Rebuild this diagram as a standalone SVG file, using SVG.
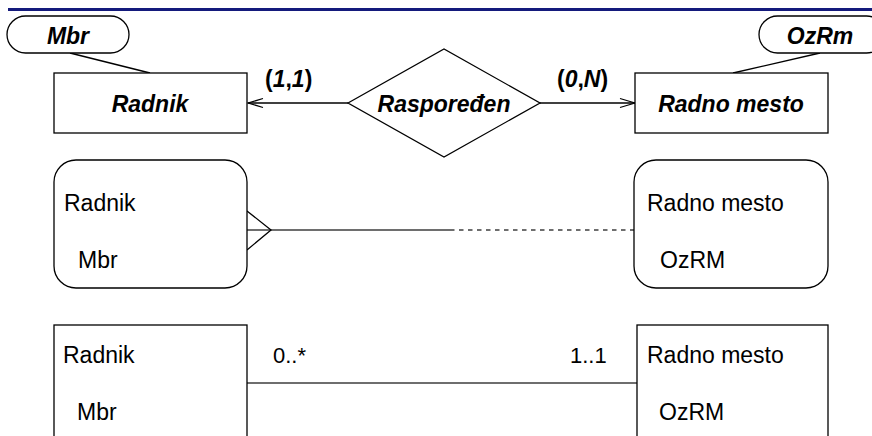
<svg xmlns="http://www.w3.org/2000/svg" width="872" height="436" viewBox="0 0 872 436">
<style>
.box{fill:#fff;stroke:#000;stroke-width:1.3}
.bi{font-family:"Liberation Sans",Arial,sans-serif;font-weight:bold;font-style:italic;font-size:23px;fill:#000}
.b{font-family:"Liberation Sans",Arial,sans-serif;font-weight:bold;font-size:23px;fill:#000}
.t{font-family:"Liberation Sans",Arial,sans-serif;font-size:23px;fill:#000}
.s{font-family:"Liberation Sans",Arial,sans-serif;font-size:22px;fill:#000}
.ln{stroke:#000;stroke-width:1.3;fill:none}
.gl{stroke:#6e6e6e;stroke-width:2;fill:none}
</style>
<defs>
<marker id="chev" markerWidth="18" markerHeight="12" refX="16" refY="6" orient="auto" markerUnits="userSpaceOnUse">
<path d="M1,1.5 L16,6 L1,10.5" fill="none" stroke="#000" stroke-width="1.3"/>
</marker>
</defs>
<rect x="8" y="8" width="864" height="3" fill="#141a7c"/>

<g id="connectors">
<line class="ln" x1="70" y1="53" x2="150" y2="73"/>
<line class="ln" x1="820" y1="53" x2="733" y2="73"/>
<line class="ln" x1="348" y1="103" x2="248" y2="103" marker-end="url(#chev)"/>
<line class="ln" x1="540" y1="103" x2="635" y2="103" marker-end="url(#chev)"/>
<line class="gl" x1="247" y1="230" x2="450" y2="230"/>
<line class="gl" x1="450" y1="230" x2="634" y2="230" stroke-dasharray="4.5,4.5"/>
<polyline class="ln" points="247,211 271,230 247,250"/>
<line class="gl" x1="247" y1="383" x2="637" y2="383"/>
<text class="b" x="265" y="87">(<tspan font-style="italic">1</tspan>,<tspan font-style="italic">1</tspan>)</text>
<text class="b" x="557" y="87">(<tspan font-style="italic">0</tspan>,<tspan font-style="italic">N</tspan>)</text>
<text class="s" x="273" y="363">0..*</text>
<text class="s" x="570" y="363">1..1</text>
</g>

<g id="attr-mbr">
<rect class="box" x="7" y="16" width="122" height="37" rx="18.5"/>
<text class="bi" x="68" y="44" text-anchor="middle">Mbr</text>
</g>
<g id="attr-ozrm">
<rect class="box" x="759" y="16" width="126" height="37" rx="18.5"/>
<text class="bi" x="820" y="44" text-anchor="middle">OzRm</text>
</g>
<g id="er-radnik">
<rect class="box" x="54" y="73" width="193" height="60"/>
<text class="bi" x="150" y="112" text-anchor="middle">Radnik</text>
</g>
<g id="er-rasporedjen">
<polygon class="box" points="348,103 444,49 540,103 444,157"/>
<text class="bi" x="444" y="112" text-anchor="middle">Raspoređen</text>
</g>
<g id="er-radno-mesto">
<rect class="box" x="635" y="73" width="193" height="60"/>
<text class="bi" x="731" y="112" text-anchor="middle">Radno mesto</text>
</g>

<g id="ie-radnik">
<rect class="box" x="54" y="160" width="193" height="128" rx="22"/>
<text class="t" x="64" y="211">Radnik</text>
<text class="t" x="78" y="268">Mbr</text>
</g>
<g id="ie-radno-mesto">
<rect class="box" x="634" y="160" width="194" height="128" rx="22"/>
<text class="t" x="647" y="211">Radno mesto</text>
<text class="t" x="660" y="268">OzRM</text>
</g>

<g id="uml-radnik">
<rect class="box" x="54" y="325" width="193" height="130"/>
<text class="t" x="63" y="363">Radnik</text>
<text class="t" x="77" y="420">Mbr</text>
</g>
<g id="uml-radno-mesto">
<rect class="box" x="637" y="325" width="191" height="130"/>
<text class="t" x="647" y="363">Radno mesto</text>
<text class="t" x="659" y="420">OzRM</text>
</g>
</svg>
